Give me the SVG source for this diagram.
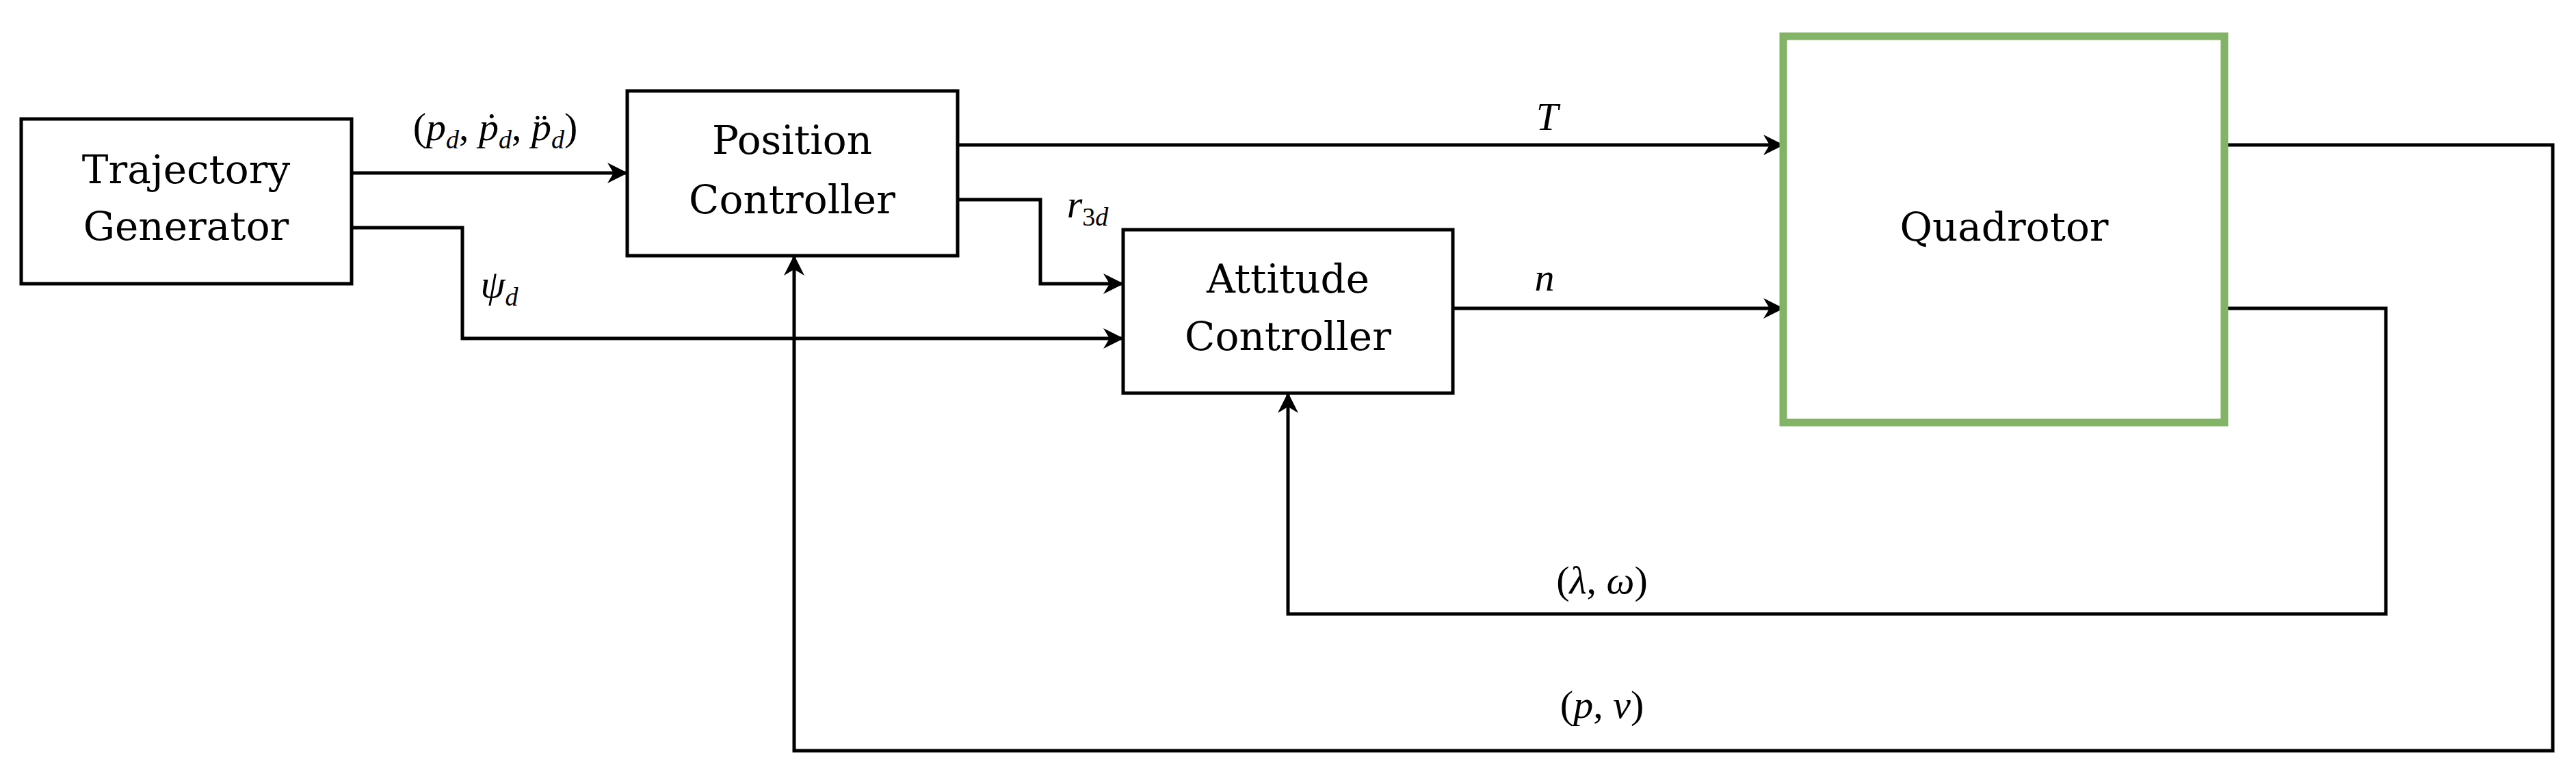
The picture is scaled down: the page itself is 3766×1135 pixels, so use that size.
<svg xmlns="http://www.w3.org/2000/svg" width="3766" height="1135" viewBox="0 0 3766 1135">
<style>
.box{fill:#fff;stroke:#000;stroke-width:5}
.q{fill:#fff;stroke:#82b366;stroke-width:11}
.t{font-family:"DejaVu Serif","Liberation Serif",serif;font-size:58px;text-anchor:middle}
.m{font-family:"Liberation Serif",serif;font-size:58px;font-style:italic;text-anchor:middle}
.c{fill:none;stroke:#000;stroke-width:5}
</style>
<defs><marker id="a" markerWidth="10" markerHeight="10" refX="9" refY="5" orient="auto" markerUnits="userSpaceOnUse" viewBox="0 0 10 10"><path d="M0,0 L10,5 L0,10 L3,5 z" fill="#000"/></marker>
<marker id="ah" viewBox="0 0 10 10" refX="9" refY="5" markerWidth="30" markerHeight="30" markerUnits="userSpaceOnUse" orient="auto"><path d="M0,0 L10,5 L0,10 L3,5 z" fill="#000"/></marker></defs>
<g id="connectors">
<path class="c" d="M514,253 H915" marker-end="url(#ah)"/>
<path class="c" d="M514,333 H676 V495 H1640" marker-end="url(#ah)"/>
<path class="c" d="M1400,212 H2605" marker-end="url(#ah)"/>
<path class="c" d="M1400,292 H1521 V415 H1640" marker-end="url(#ah)"/>
<path class="c" d="M2124,451 H2605" marker-end="url(#ah)"/>
<path class="c" d="M3252,212 H3732 V1098 H1161 V376" marker-end="url(#ah)"/>
<path class="c" d="M3252,451 H3488 V898 H1883 V577" marker-end="url(#ah)"/>
</g>
<g id="tg"><rect class="box" x="31" y="174" width="483" height="241"/><text class="t" x="272" y="268">Trajectory</text><text class="t" x="272" y="351">Generator</text></g>
<g id="pc"><rect class="box" x="917" y="133" width="483" height="241"/><text class="t" x="1158" y="225">Position</text><text class="t" x="1158" y="312">Controller</text></g>
<g id="ac"><rect class="box" x="1642" y="336" width="482" height="239"/><text class="t" x="1883" y="428">Attitude</text><text class="t" x="1883" y="512">Controller</text></g>
<g id="quad"><rect class="q" x="2607" y="53" width="645" height="565"/><text class="t" x="2930" y="352" font-size="76">Quadrotor</text></g>
<g id="labels">
<text class="m" x="724" y="205"><tspan font-style="normal">(</tspan>p<tspan font-size="38" dy="12">d</tspan><tspan dy="-12" font-style="normal">, </tspan>ṗ<tspan font-size="38" dy="12">d</tspan><tspan dy="-12" font-style="normal">, </tspan>p̈<tspan font-size="38" dy="12">d</tspan><tspan dy="-12" font-style="normal">)</tspan></text>
<text class="m" x="730" y="435">ψ<tspan font-size="38" dy="12">d</tspan></text>
<text class="m" x="1590" y="318">r<tspan font-size="38" dy="12" font-style="normal">3</tspan><tspan font-size="38">d</tspan></text>
<text class="m" x="2262" y="190">T</text>
<text class="m" x="2258" y="425">n</text>
<text class="m" x="2342" y="868"><tspan font-style="normal">(</tspan>λ<tspan font-style="normal">, </tspan>ω<tspan font-style="normal">)</tspan></text>
<text class="m" x="2342" y="1050"><tspan font-style="normal">(</tspan>p<tspan font-style="normal">, </tspan>v<tspan font-style="normal">)</tspan></text>
</g>
</svg>
